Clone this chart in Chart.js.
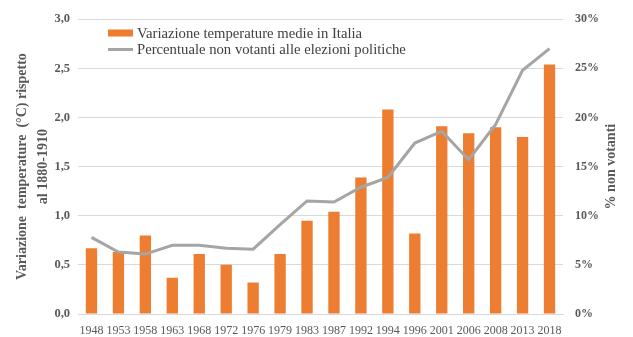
<!DOCTYPE html>
<html>
<head>
<meta charset="utf-8">
<script src="https://cdn.jsdelivr.net/npm/chart.js@4.4.1/dist/chart.umd.min.js"></script>
<style>
  body { margin: 0; background: #fff; }
  #wrap { width: 633px; height: 337px; }
</style>
</head>
<body>
<div id="wrap"><canvas id="tempChart" width="633" height="337"></canvas></div>
<script>
// anni delle elezioni politiche
const anni = ['1948', '1953', '1958', '1963', '1968', '1972', '1976', '1979', '1983',
    '1987', '1992', '1994', '1996', '2001', '2006', '2008', '2013', '2018'];

// variazione temperature (°C) rispetto al 1880-1910
const variazioneTemp = [0.67, 0.63, 0.80, 0.37, 0.61, 0.50, 0.32, 0.61, 0.95,
    1.04, 1.39, 2.08, 0.82, 1.91, 1.84, 1.90, 1.80, 2.54];

// percentuale non votanti
const nonVotanti = [7.8, 6.3, 6.1, 7.0, 7.0, 6.7, 6.6, 9.1, 11.5,
    11.4, 12.9, 13.9, 17.4, 18.6, 15.7, 19.3, 24.8, 27.0];

const tickTemp = [0, 0.5, 1.0, 1.5, 2.0, 2.5, 3.0];

const grigioTesto = '#595959';
const font = 'Liberation Serif, Times New Roman, serif';

// legenda disegnata dentro l'area del grafico, in alto a sinistra
const legendaInterna = {
    id: 'legendaInterna',
    afterDraw(chart) {
        const ctx = chart.ctx;
        const x0 = 108, y0 = 33, step = 16.5;
        ctx.save();
        ctx.font = '14.7px ' + font;
        ctx.textBaseline = 'middle';
        chart.data.datasets.forEach((ds, i) => {
            const y = y0 + i * step;
            if (ds.type === 'line') {
                ctx.strokeStyle = ds.borderColor;
                ctx.lineWidth = 3;
                ctx.beginPath();
                ctx.moveTo(x0, y);
                ctx.lineTo(x0 + 25, y);
                ctx.stroke();
            } else {
                ctx.fillStyle = ds.backgroundColor;
                ctx.fillRect(x0, y - 3.5, 25, 7);
            }
            ctx.fillStyle = '#404040';
            ctx.fillText(ds.label, x0 + 29, y + 1);
        });
        ctx.restore();
    }
};

// titolo dell'asse destro, ruotato come quello sinistro
const titoloDestro = {
    id: 'titoloDestro',
    afterDraw(chart) {
        const ctx = chart.ctx;
        const area = chart.chartArea;
        ctx.save();
        ctx.translate(611, (area.top + area.bottom) / 2);
        ctx.rotate(-Math.PI / 2);
        ctx.font = 'bold 14px ' + font;
        ctx.fillStyle = grigioTesto;
        ctx.textAlign = 'center';
        ctx.textBaseline = 'middle';
        ctx.fillText('% non votanti', 0, 0);
        ctx.restore();
    }
};

const ctx = document.getElementById('tempChart').getContext('2d');

new Chart(ctx, {
    data: {
        labels: anni,
        datasets: [
            {
                type: 'bar',
                label: 'Variazione temperature medie in Italia',
                data: variazioneTemp,
                yAxisID: 'y',
                backgroundColor: '#ED7D31',
                categoryPercentage: 1,
                barPercentage: 0.42,
                order: 1
            },
            {
                type: 'line',
                label: 'Percentuale non votanti alle elezioni politiche',
                data: nonVotanti,
                yAxisID: 'y1',
                borderColor: '#A5A5A5',
                borderWidth: 3,
                pointRadius: 0,
                tension: 0,
                order: 0
            }
        ]
    },
    options: {
        responsive: false,
        animation: false,
        layout: { padding: { top: 15, left: 0, right: 0, bottom: 0 } },
        plugins: {
            legend: { display: false },
            tooltip: { enabled: false }
        },
        scales: {
            x: {
                grid: { display: false },
                border: { color: '#D9D9D9' },
                ticks: {
                    color: grigioTesto,
                    font: { family: font, size: 12 },
                    maxRotation: 0,
                    autoSkip: false,
                    padding: 2
                },
                afterFit: s => { s.height = 23; }
            },
            y: {
                position: 'left',
                min: 0,
                max: 3,
                afterBuildTicks: s => { s.ticks = tickTemp.map(v => ({ value: v })); },
                grid: { color: '#D9D9D9', drawTicks: false },
                border: { display: false },
                ticks: {
                    color: grigioTesto,
                    font: { family: font, size: 12.5, weight: 'bold' },
                    padding: 8,
                    callback: v => v.toFixed(1).replace('.', ',')
                },
                title: {
                    display: true,
                    text: ['Variazione  temperature  (°C) rispetto', 'al 1880-1910'],
                    color: grigioTesto,
                    font: { family: font, size: 14, weight: 'bold', lineHeight: 1.5 },
                    padding: { top: 11.5, bottom: 0 }
                },
                afterFit: s => { s.width = 78; }
            },
            y1: {
                position: 'right',
                min: 0,
                max: 30,
                grid: { display: false, drawTicks: false },
                border: { display: false },
                ticks: {
                    stepSize: 5,
                    color: grigioTesto,
                    font: { family: font, size: 12, weight: 'bold' },
                    padding: 12,
                    callback: v => v + '%'
                },
                afterFit: s => { s.width = 70; }
            }
        }
    },
    plugins: [legendaInterna, titoloDestro]
});
</script>
</body>
</html>
